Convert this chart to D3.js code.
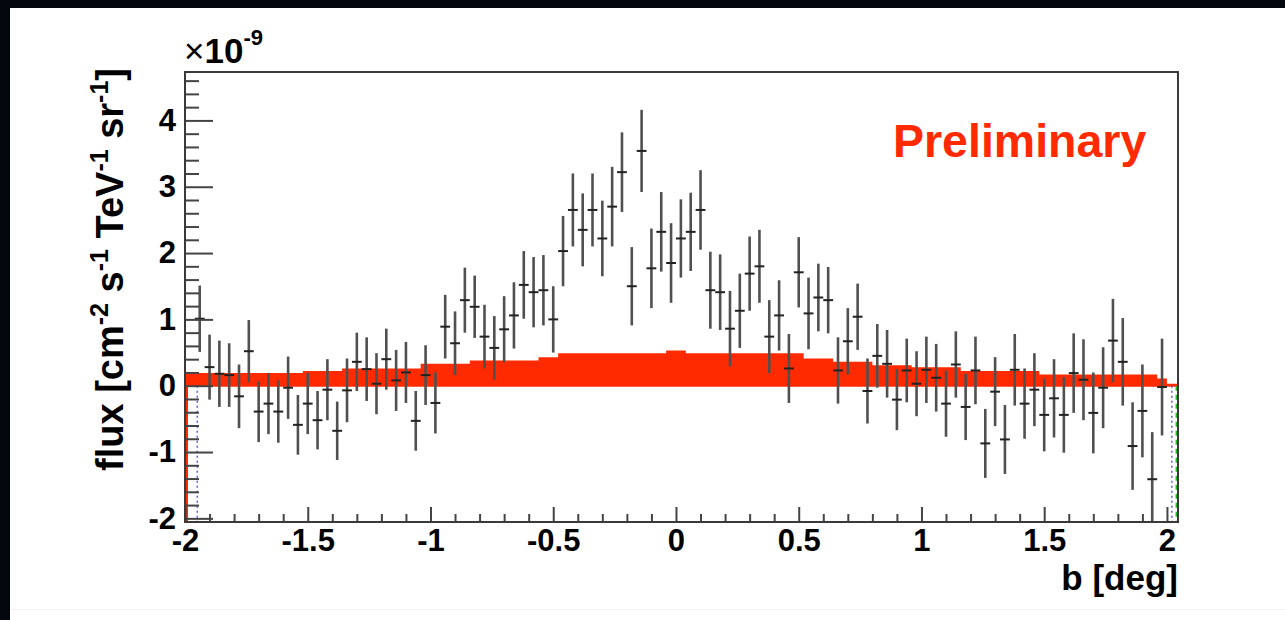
<!DOCTYPE html>
<html><head><meta charset="utf-8">
<script src="https://cdn.jsdelivr.net/npm/d3@7"></script>
<style>
body{margin:0;background:#03060d;}
svg{display:block;}
text{font-family:"Liberation Sans",Arial,Helvetica,sans-serif;font-weight:bold;}
</style>
</head><body>
<svg id="c" width="1285" height="620"></svg>
<script>
// ---- data ----
const bCenters = [-1.94,-1.90,-1.86,-1.82,-1.78,-1.74,-1.70,-1.66,-1.62,-1.58,
  -1.54,-1.50,-1.46,-1.42,-1.38,-1.34,-1.30,-1.26,-1.22,-1.18,
  -1.14,-1.10,-1.06,-1.02,-0.98,-0.94,-0.90,-0.86,-0.82,-0.78,
  -0.74,-0.70,-0.66,-0.62,-0.58,-0.54,-0.50,-0.46,-0.42,-0.38,
  -0.34,-0.30,-0.26,-0.22,-0.18,-0.14,-0.10,-0.06,-0.02,0.02,
  0.06,0.10,0.14,0.18,0.22,0.26,0.30,0.34,0.38,0.42,
  0.46,0.50,0.54,0.58,0.62,0.66,0.70,0.74,0.78,0.82,
  0.86,0.90,0.94,0.98,1.02,1.06,1.10,1.14,1.18,1.22,
  1.26,1.30,1.34,1.38,1.42,1.46,1.50,1.54,1.58,1.62,
  1.66,1.70,1.74,1.78,1.82,1.86,1.90,1.94,1.98];
const flux = [1.01,0.28,0.18,0.16,-0.16,0.52,-0.39,-0.27,-0.39,-0.03,
  -0.59,-0.27,-0.52,-0.06,-0.68,-0.07,0.36,0.25,0.03,0.40,
  0.08,0.20,-0.53,0.16,-0.26,0.89,0.64,1.29,1.19,0.74,
  0.57,0.85,1.06,1.52,1.41,1.44,1.00,2.03,2.65,2.35,
  2.65,2.22,2.70,3.22,1.50,3.54,1.77,2.32,1.85,2.22,
  2.32,2.65,1.44,1.41,0.86,1.13,1.69,1.80,0.74,1.06,
  0.26,1.71,1.09,1.33,1.29,0.23,0.67,1.04,-0.08,0.45,
  0.33,-0.21,0.23,0.03,0.24,0.12,-0.27,0.32,-0.32,0.23,
  -0.87,-0.09,-0.81,0.24,-0.27,-0.06,-0.44,-0.19,-0.44,0.19,
  0.09,-0.41,-0.03,0.68,0.36,-0.91,-0.38,-1.41,-0.02];
const fluxErr = [0.50,0.49,0.50,0.48,0.48,0.47,0.46,0.46,0.47,0.47,
  0.45,0.46,0.44,0.46,0.44,0.48,0.44,0.48,0.46,0.46,
  0.46,0.46,0.45,0.45,0.46,0.48,0.48,0.49,0.47,0.48,
  0.48,0.50,0.50,0.51,0.53,0.53,0.50,0.53,0.55,0.55,
  0.55,0.57,0.60,0.60,0.59,0.62,0.60,0.60,0.60,0.59,
  0.59,0.60,0.58,0.57,0.57,0.56,0.56,0.55,0.55,0.53,
  0.52,0.53,0.54,0.51,0.50,0.50,0.50,0.50,0.49,0.48,
  0.51,0.46,0.48,0.49,0.50,0.51,0.50,0.50,0.50,0.51,
  0.52,0.52,0.52,0.54,0.53,0.55,0.55,0.59,0.57,0.60,
  0.61,0.61,0.61,0.63,0.66,0.66,0.70,0.71,0.73];
const binHalfWidth = 0.02;

// background model band (step histogram)
const bandEdges = [-2.00,-1.52,-1.36,-1.04,-0.84,-0.56,-0.48,-0.04,0.04,0.52,0.64,0.80,0.96,1.16,1.48,1.96,2.00,2.045];
const bandTop   = [0.19,0.22,0.26,0.33,0.38,0.43,0.49,0.53,0.49,0.41,0.36,0.31,0.28,0.22,0.17,0.11,0.03];
const bandBottom = -0.015;

const xTickValues = [-2,-1.5,-1,-0.5,0,0.5,1,1.5,2];
const xTickLabels = ["-2","-1.5","-1","-0.5","0","0.5","1","1.5","2"];
const yTickValues = [-2,-1,0,1,2,3,4];
const yTickLabels = ["-2","-1","0","1","2","3","4"];
const xDomain = [-2, 2.045];
const yDomain = [-2.055, 4.73];
const edgeLines = [{b:-1.95, color:"#5a5aff", dash:"2,3"}, {b:2.02, color:"#5a5aff", dash:"2,3"}, {b:2.038, color:"#22bb22", dash:"5,4"}];

// ---- layout ----
const L = 185, R = 1178, T = 72, B = 522;
const svg = d3.select("#c");
svg.append("rect").attr("x",0).attr("y",0).attr("width",1285).attr("height",620).attr("fill","#03060d");
svg.append("rect").attr("x",10).attr("y",8).attr("width",1275).attr("height",612).attr("fill","#ffffff");
svg.append("line").attr("x1",10).attr("x2",1285).attr("y1",609.5).attr("y2",609.5).attr("stroke","#f2f2f2").attr("stroke-width",1);

const x = d3.scaleLinear().domain(xDomain).range([L, R]);
const y = d3.scaleLinear().domain(yDomain).range([B, T]);

svg.append("clipPath").attr("id","plotclip").append("rect")
  .attr("x",L).attr("y",T).attr("width",R-L).attr("height",B-T);
const plot = svg.append("g").attr("clip-path","url(#plotclip)");

// band
const bandPts = bandTop.map((v,i)=>({b:bandEdges[i], v}));
bandPts.push({b:bandEdges[bandEdges.length-1], v:bandTop[bandTop.length-1]});
plot.append("path").datum(bandPts)
  .attr("fill","#ff2a00")
  .attr("d", d3.area().curve(d3.curveStepAfter).x(d=>x(d.b)).y0(y(bandBottom)).y1(d=>y(d.v)));

// red outline edge at left, dotted/dashed edge lines
plot.append("line").attr("x1",x(-2)+1.5).attr("x2",x(-2)+1.5)
  .attr("y1",y(bandTop[0])).attr("y2",B).attr("stroke","#ff2a00").attr("stroke-width",3);
plot.selectAll("line.edge").data(edgeLines).enter().append("line")
  .attr("class","edge")
  .attr("x1",d=>x(d.b)).attr("x2",d=>x(d.b))
  .attr("y1",y(0)).attr("y2",B)
  .attr("stroke",d=>d.color).attr("stroke-width",1.5).attr("stroke-dasharray",d=>d.dash);

// error bars
const pts = bCenters.map((b,i)=>({b, v:flux[i], e:fluxErr[i]}));
const eb = plot.append("g");
eb.selectAll("line.v").data(pts).enter().append("line").attr("class","v")
  .attr("x1",d=>x(d.b)).attr("x2",d=>x(d.b))
  .attr("y1",d=>y(d.v+d.e)).attr("y2",d=>y(d.v-d.e))
  .attr("stroke","#505050").attr("stroke-width",2.6);
eb.selectAll("line.h").data(pts).enter().append("line").attr("class","h")
  .attr("x1",d=>x(d.b-binHalfWidth)).attr("x2",d=>x(d.b+binHalfWidth))
  .attr("y1",d=>y(d.v)).attr("y2",d=>y(d.v))
  .attr("stroke","#222").attr("stroke-width",2);

// axes
const xMinor = d3.range(-20,21).map(i=>i/10).filter(v=>Math.abs(v*2-Math.round(v*2))>1e-6);
const yMinor = d3.range(-10,24).map(i=>i/5).filter(v=>Math.abs(v-Math.round(v))>1e-6);

const xAxisMinor = svg.append("g").attr("transform",`translate(0,${B})`)
  .call(d3.axisBottom(x).tickValues(xMinor).tickSize(-8).tickFormat(""));
const xAxis = svg.append("g").attr("transform",`translate(0,${B})`)
  .call(d3.axisBottom(x).tickValues(xTickValues).tickSize(-15).tickPadding(7)
    .tickFormat((d,i)=>xTickLabels[i]));
const yAxisMinor = svg.append("g").attr("transform",`translate(${L},0)`)
  .call(d3.axisLeft(y).tickValues(yMinor).tickSize(-14).tickFormat(""));
const yAxis = svg.append("g").attr("transform",`translate(${L},0)`)
  .call(d3.axisLeft(y).tickValues(yTickValues).tickSize(-28).tickPadding(9)
    .tickFormat((d,i)=>yTickLabels[i]));
[xAxisMinor,xAxis,yAxisMinor,yAxis].forEach(g=>{
  g.select(".domain").remove();
  g.selectAll(".tick line").attr("stroke","#444").attr("stroke-width",2);
  g.selectAll(".tick text").attr("fill","#000").style("font-size","31px")
    .style("font-family","'Liberation Sans',Arial,sans-serif").style("font-weight","bold");
});

// frame
svg.append("rect").attr("x",L).attr("y",T).attr("width",R-L).attr("height",B-T)
  .attr("fill","none").attr("stroke","#3a3a3a").attr("stroke-width",2);

// exponent label
const ex = svg.append("text").attr("x",184).attr("y",63).style("font-size","35px");
ex.append("tspan").text("\u00d7").style("font-weight","normal");
ex.append("tspan").text("10");
ex.append("tspan").text("-9").attr("dy",-18).style("font-size","22px");

// axis titles
svg.append("text").attr("x",R).attr("y",590).attr("text-anchor","end")
  .style("font-size","35px").text("b [deg]");

const yt = svg.append("text").attr("transform","translate(123,68) rotate(-90)")
  .attr("text-anchor","end").style("font-size","38px");
const parts = [["flux [cm",0],["-2",1],[" s",0],["-1",1],[" TeV",0],["-1",1],[" sr",0],["-1",1],["]",0]];
let up = false;
parts.forEach(([t,s])=>{
  const ts = yt.append("tspan").text(t);
  if (s && !up){ ts.attr("dy",-15).style("font-size","25px"); up = true; }
  else if (!s && up){ ts.attr("dy",15); up = false; }
});

// Preliminary label
svg.append("text").attr("x",893).attr("y",157).attr("fill","#ff2a00")
  .style("font-size","46.5px").text("Preliminary");
</script>
</body></html>
